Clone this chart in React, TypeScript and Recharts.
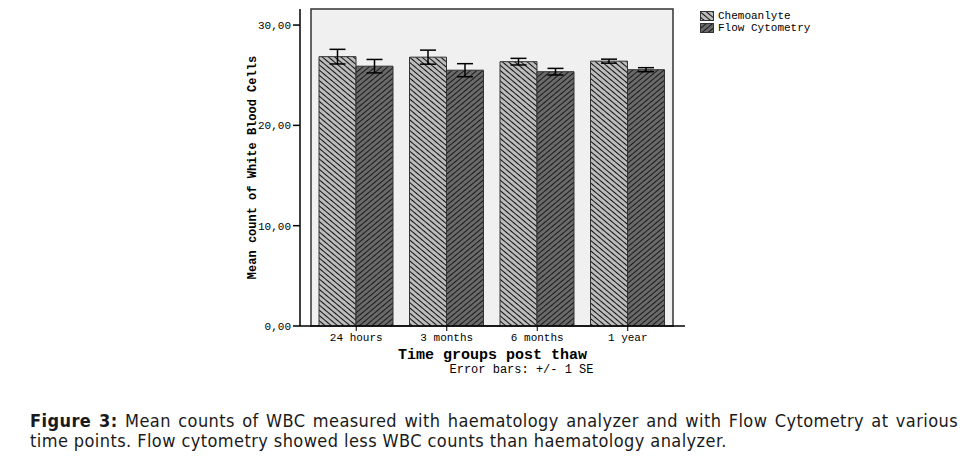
import React from "react";
import {
  Bar,
  BarChart,
  ErrorBar,
  Legend,
  ReferenceArea,
  XAxis,
  YAxis,
} from "recharts";

const categories = ["24 hours", "3 months", "6 months", "1 year"];
const chemoMean = [26.85, 26.8, 26.35, 26.4];
const chemoSe = [0.73, 0.7, 0.33, 0.2];
const flowMean = [25.9, 25.5, 25.35, 25.55];
const flowSe = [0.67, 0.65, 0.33, 0.2];
const yTicks = [0, 10, 20, 30];
const yMax = 31.6;

const chartData = categories.map((name, i) => ({
  name,
  chemo: chemoMean[i],
  chemoErr: chemoSe[i],
  flow: flowMean[i],
  flowErr: flowSe[i],
}));

const mono = "'Liberation Mono', 'DejaVu Sans Mono', monospace";

const legendItems = [
  { label: "Chemoanlyte", fill: "url(#hatchChemo)" },
  { label: "Flow Cytometry", fill: "url(#hatchFlow)" },
];

const LegendBox = () => (
  <div style={{ fontFamily: mono, fontSize: 11, color: "#000" }}>
    {legendItems.map((item) => (
      <div
        key={item.label}
        style={{ display: "flex", alignItems: "center", height: 12 }}
      >
        <svg width={14} height={10} style={{ marginRight: 4 }}>
          <rect
            x={0.5}
            y={0.5}
            width={13}
            height={9}
            fill={item.fill}
            stroke="#333"
          />
        </svg>
        <span>{item.label}</span>
      </div>
    ))}
  </div>
);

const XTitle = (props: any) => {
  const { viewBox } = props;
  const cx = viewBox.x + viewBox.width / 2;
  const y = viewBox.y;
  return (
    <g>
      <text
        x={cx}
        y={y + 33}
        textAnchor="middle"
        fontFamily={mono}
        fontWeight="bold"
        fontSize={15}
        fill="#000"
      >
        Time groups post thaw
      </text>
      <text
        x={cx + 29}
        y={y + 47}
        textAnchor="middle"
        fontFamily={mono}
        fontSize={12}
        fill="#000"
      >
        Error bars: +/- 1 SE
      </text>
    </g>
  );
};

const fmt = (v: number) => v.toFixed(2).replace(".", ",");

export default function App() {
  return (
    <div
      style={{
        position: "absolute",
        left: 0,
        top: 0,
        width: 963,
        height: 463,
        background: "#fff",
      }}
    >
      <BarChart
        width={963}
        height={390}
        data={chartData}
        margin={{ top: 9, right: 278, left: 240, bottom: 34 }}
        barSize={37}
        barGap={0}
      >
        <defs>
          <pattern
            id="hatchChemo"
            width={4}
            height={4}
            patternUnits="userSpaceOnUse"
            patternTransform="rotate(40)"
          >
            <rect width={4} height={4} fill="#bcbcbc" />
            <line x1={0} y1={0} x2={4} y2={0} stroke="#111" strokeWidth={2} />
          </pattern>
          <pattern
            id="hatchFlow"
            width={4}
            height={4}
            patternUnits="userSpaceOnUse"
            patternTransform="rotate(-40)"
          >
            <rect width={4} height={4} fill="#6a6a6a" />
            <line x1={0} y1={0} x2={4} y2={0} stroke="#1a1a1a" strokeWidth={2} />
          </pattern>
        </defs>
        <ReferenceArea
          y1={0}
          y2={yMax}
          fill="#f0f0f0"
          fillOpacity={1}
          stroke="#333"
          strokeWidth={1.5}
          ifOverflow="visible"
        />
        <XAxis
          dataKey="name"
          padding={{ left: 11, right: 12 }}
          axisLine={{ stroke: "#000", strokeWidth: 1.5 }}
          tickLine={{ stroke: "#000" }}
          tickSize={5}
          tick={{ fontFamily: mono, fontSize: 11, fill: "#000" }}
          height={30}
          interval={0}
          label={<XTitle />}
        />
        <YAxis
          width={60}
          domain={[0, yMax]}
          ticks={yTicks}
          tickFormatter={fmt}
          axisLine={{ stroke: "#000", strokeWidth: 1.5 }}
          tickLine={{ stroke: "#000", strokeWidth: 1.5 }}
          tickSize={7}
          tick={{ fontFamily: mono, fontSize: 11, fill: "#000" }}
          allowDataOverflow
          label={{
            value: "Mean count of White Blood Cells",
            angle: -90,
            position: "insideLeft",
            offset: 12,
            style: {
              fontFamily: mono,
              fontWeight: "bold",
              fontSize: 12,
              fill: "#000",
              textAnchor: "middle",
            },
          }}
        />
        <Legend
          layout="vertical"
          align="center"
          verticalAlign="middle"
          content={<LegendBox />}
          wrapperStyle={{ left: 700, top: 10, width: 140 }}
        />
        <Bar
          dataKey="chemo"
          name="Chemoanlyte"
          fill="url(#hatchChemo)"
          stroke="#333"
          strokeWidth={1}
          isAnimationActive={false}
        >
          <ErrorBar dataKey="chemoErr" width={8} stroke="#000" strokeWidth={1.5} />
        </Bar>
        <Bar
          dataKey="flow"
          name="Flow Cytometry"
          fill="url(#hatchFlow)"
          stroke="#333"
          strokeWidth={1}
          isAnimationActive={false}
        >
          <ErrorBar dataKey="flowErr" width={8} stroke="#000" strokeWidth={1.5} />
        </Bar>
      </BarChart>
      <div
        style={{
          position: "absolute",
          left: 30,
          top: 411,
          width: 928,
          fontFamily: "'DejaVu Sans Condensed', 'DejaVu Sans', sans-serif",
          fontSize: 18,
          letterSpacing: 0.42,
          lineHeight: "20px",
          color: "#1a1a1a",
          whiteSpace: "nowrap",
        }}
      >
        <div style={{ textAlign: "justify", textAlignLast: "justify" }}>
          <b>Figure 3:</b> Mean counts of WBC measured with haematology analyzer
          and with Flow Cytometry at various
        </div>
        <div>
          time points. Flow cytometry showed less WBC counts than haematology
          analyzer.
        </div>
      </div>
    </div>
  );
}
